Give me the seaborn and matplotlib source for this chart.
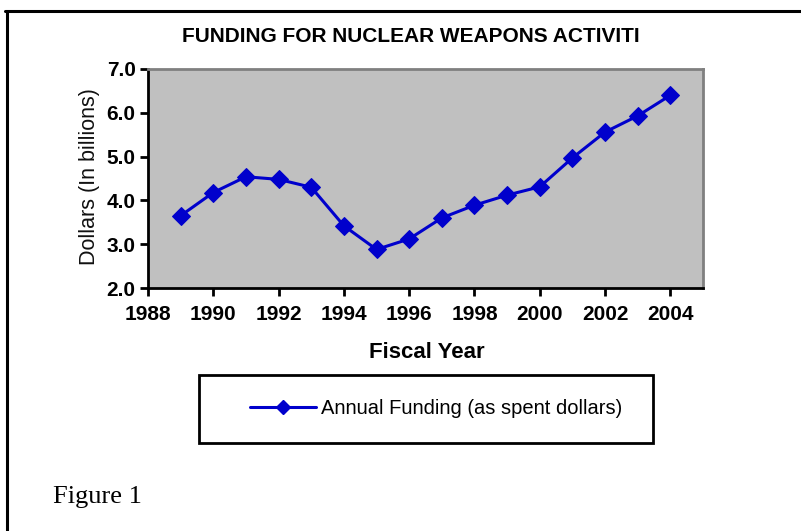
import matplotlib
matplotlib.use("Agg")
import matplotlib.pyplot as plt
import seaborn as sns
import pandas as pd
from matplotlib.lines import Line2D
from matplotlib.patches import Rectangle

years = [1989, 1990, 1991, 1992, 1993, 1994, 1995, 1996, 1997, 1998, 1999, 2000, 2001, 2002, 2003, 2004]
funding = [3.65, 4.18, 4.54, 4.48, 4.30, 3.42, 2.88, 3.12, 3.60, 3.89, 4.12, 4.31, 4.97, 5.56, 5.93, 6.40]
x_ticks = [1988, 1990, 1992, 1994, 1996, 1998, 2000, 2002, 2004]
y_ticks = [2.0, 3.0, 4.0, 5.0, 6.0, 7.0]
series_name = "Annual Funding (as spent dollars)"

sns.set_theme(style="white")
plt.rcParams['font.family'] = ['Liberation Sans', 'DejaVu Sans']
plt.rcParams['text.color'] = 'black'
plt.rcParams['axes.labelcolor'] = 'black'
plt.rcParams['xtick.color'] = 'black'
plt.rcParams['ytick.color'] = 'black'

df = pd.DataFrame({"Year": years, "Funding": funding})

W, H = 801, 531
fig = plt.figure(figsize=(W / 100, H / 100), dpi=100)
ax = fig.add_axes([148 / W, 1 - 288 / H, (703 - 148) / W, (288 - 69) / H])

color = "#0000CC"
sns.lineplot(data=df, x="Year", y="Funding", ax=ax, color=color, linewidth=2.2,
             marker="D", markersize=9, markeredgecolor=color, markerfacecolor=color)

ax.set_facecolor("#C0C0C0")
ax.set_xlim(1988, 2005)
ax.set_ylim(2.0, 7.0)
ax.set_xticks(x_ticks)
ax.set_xticklabels([str(t) for t in x_ticks], fontsize=15, fontweight="bold")
ax.set_yticks(y_ticks)
ax.set_yticklabels([f"{t:.1f}" for t in y_ticks], fontsize=15, fontweight="bold")
ax.tick_params(axis="both", which="major", direction="out", length=6, width=2, color="black",
               labelcolor="black", bottom=True, left=True, pad=3)
ax.tick_params(axis="x", pad=6)
ax.grid(False)
for s in ["left", "bottom"]:
    ax.spines[s].set_color("black")
    ax.spines[s].set_linewidth(2)
for s in ["top", "right"]:
    ax.spines[s].set_color("#808080")
    ax.spines[s].set_linewidth(2)

ax.set_xlabel("")
ax.set_ylabel("")
fig.text(427 / W, 1 - 352 / H, "Fiscal Year", ha="center", va="center", fontsize=16,
         fontweight="bold", color="black")
fig.text(90 / W, 1 - 177 / H, "Dollars (In billions)", ha="center", va="center", rotation=90,
         fontsize=15.5, color="#111111")
fig.text(411 / W, 1 - 36 / H, "FUNDING FOR NUCLEAR WEAPONS ACTIVITI", ha="center", va="center",
         fontsize=15, fontweight="bold", color="black")
fig.text(53 / W, 1 - 497 / H, "Figure 1", ha="left", va="center", fontsize=19, color="black",
         family=["Liberation Serif", "DejaVu Serif"])

# outer frame lines
fig.add_artist(Line2D([5 / W, 1.0], [1 - 10.5 / H, 1 - 10.5 / H], transform=fig.transFigure,
                      color="black", linewidth=2.2))
fig.add_artist(Line2D([7 / W, 7 / W], [1 - 10.5 / H, 0.0], transform=fig.transFigure,
                      color="black", linewidth=2.2))

# legend box
fig.add_artist(Rectangle((199 / W, 1 - 443 / H), (653 - 199) / W, (443 - 375) / H,
                         transform=fig.transFigure, fill=False, edgecolor="black", linewidth=2))
handle = Line2D([], [], color=color, linewidth=2.2, marker="D", markersize=7,
                markerfacecolor=color, markeredgecolor=color)
leg = fig.legend([handle], [series_name], loc="center left",
                 bbox_to_anchor=(250 / W, 1 - 409 / H), frameon=False, fontsize=14.5,
                 handlelength=3.3, handletextpad=0.25, borderaxespad=0, borderpad=0)
for t in leg.get_texts():
    t.set_color("black")

fig.savefig("out.png", dpi=100)
